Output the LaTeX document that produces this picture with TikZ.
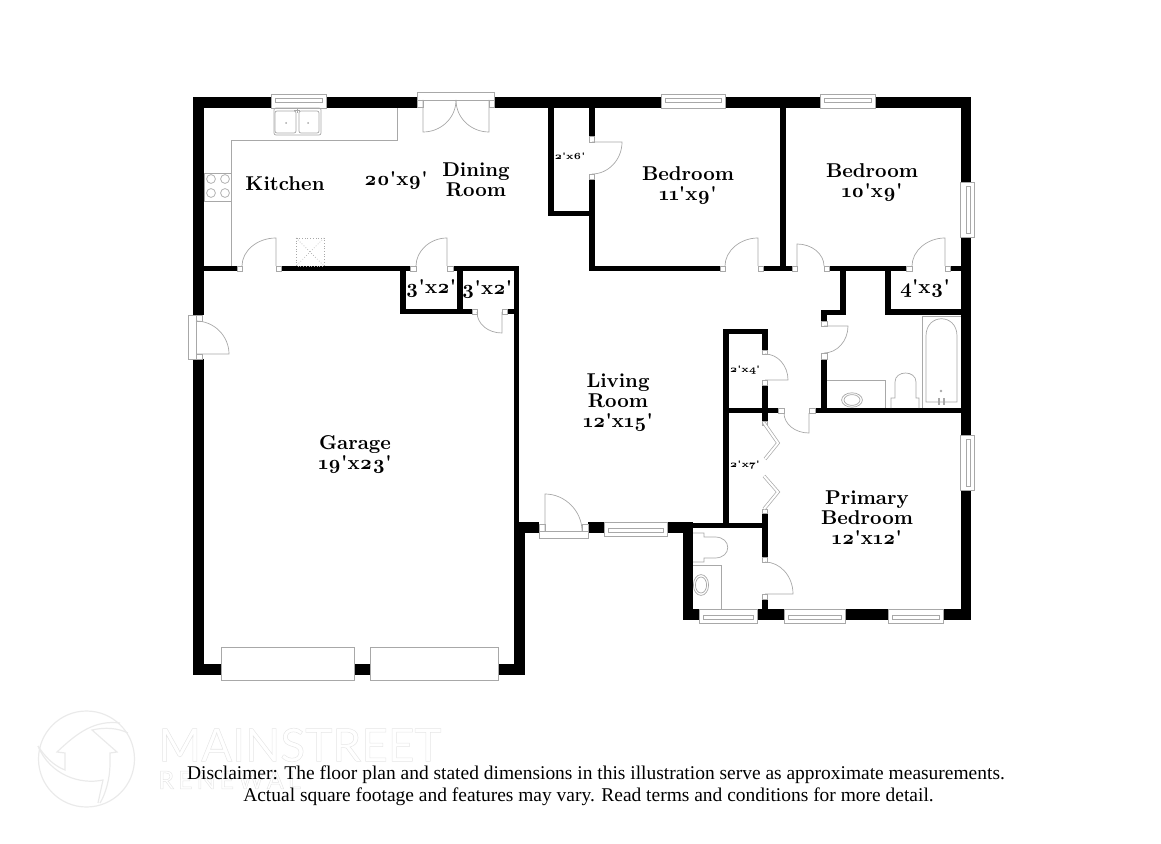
\documentclass[tikz,border=0pt]{standalone}
\usepackage{fontspec}
\setmainfont{Latin Modern Roman}[Numbers=OldStyle,Ligatures=TeXOff]
\newfontfamily\markfont{Lato}
\newfontfamily\notefont{Liberation Serif}
\definecolor{linegray}{HTML}{A8A8A8}
\definecolor{markgray}{HTML}{EAEAEA}
\tikzset{
  wall/.style={line width=5.3pt},
  thinwall/.style={line width=2.8pt},
  fixture/.style={draw=linegray,line width=0.35pt},
  jamb/.style={draw=linegray,fill=white,line width=0.35pt},
  mark line/.style={draw=markgray,line width=0.6pt},
  dotted line/.style={draw=linegray,line width=0.35pt,densely dotted},
  room/.style={font=\bfseries\fontsize{10}{10}\selectfont,align=center,inner sep=0pt},
  smallroom/.style={font=\bfseries\fontsize{4.7}{6}\selectfont,align=center,inner sep=0pt},
  note/.style={font=\notefont\fontsize{9.73}{11}\selectfont,align=center,inner sep=0pt},
}
\begin{document}
\begin{tikzpicture}[x=0.5pt,y=-0.5pt]
    \useasboundingbox (0,0) rectangle (1161,844);
    % watermark
    \draw[mark line] (86.5,759) circle[radius=24pt];
    \draw[mark line] (120,723) .. controls (95,720) and (78,732) .. (57,752)--(65,753)--(65,770) .. controls (52,765) and (44,755) .. (38,746);
    \draw[mark line] (128,733) .. controls (118,728) and (105,727) .. (92,730)--(117,752)--(110,753)--(110,763) .. controls (110,780) and (105,795) .. (100,803);
    \draw[mark line] (38,746) .. controls (50,775) and (80,785) .. (103,780)--(98,803);
    \node[inner sep=0pt,anchor=west] (markname) at (158,745) {\special{pdf:code 1 Tr 0.25 w 0.9 0.9 0.9 RG}\markfont\fontsize{23}{24}\selectfont MAINSTREET\special{pdf:code 0 Tr}};
    \node[inner sep=0pt,anchor=west] (marksub) at (158,780) {\special{pdf:code 1 Tr 0.25 w 0.9 0.9 0.9 RG}\markfont\addfontfeature{LetterSpace=16}\fontsize{12.5}{13}\selectfont RENEWAL\special{pdf:code 0 Tr}};
    % outer walls
    \draw[wall] (271,102.5)--(198.5,102.5)--(198.5,315);
    \draw[wall] (326,102.5)--(417,102.5);
    \draw[wall] (495,102.5)--(661,102.5);
    \draw[wall] (725,102.5)--(820,102.5);
    \draw[wall] (875,102.5)--(966,102.5)--(966,182);
    \draw[wall] (966,237)--(966,435);
    \draw[wall] (966,490)--(966,614.5)--(943,614.5);
    \draw[wall] (888,614.5)--(845,614.5);
    \draw[wall] (784,614.5)--(757,614.5);
    \draw[wall] (699,614.5)--(688,614.5)--(688,527.5);
    \draw[wall] (198.5,359)--(198.5,669.5)--(221,669.5);
    \draw[wall] (354,669.5)--(370,669.5);
    \draw[wall] (498,669.5)--(519.5,669.5)--(519.5,527.5)--(539,527.5);
    \draw[wall] (588,527.5)--(604,527.5);
    \draw[wall] (667,527.5)--(693,527.5);
    % inner walls
    \draw[thinwall] (204,268.5)--(237,268.5);
    \draw[thinwall] (281,268.5)--(410,268.5);
    \draw[thinwall] (453,268.5)--(516.5,268.5)--(516.5,522);
    \draw[thinwall] (403,271)--(403,311.5)--(472,311.5);
    \draw[thinwall] (460,268.5)--(460,311.5);
    \draw[thinwall] (507,311.5)--(516.5,311.5);
    \draw[thinwall] (551,108)--(551,213.5)--(592,213.5);
    \draw[thinwall] (592,108)--(592,136);
    \draw[thinwall] (592,178)--(592,268.5)--(720,268.5);
    \draw[thinwall] (763,268.5)--(792,268.5);
    \draw[thinwall] (783,108)--(783,268.5);
    \draw[thinwall] (829,268.5)--(906,268.5);
    \draw[thinwall] (950,268.5)--(961,268.5);
    \draw[thinwall] (843,268.5)--(843,312.5)--(824,312.5)--(824,321);
    \draw[thinwall] (824,359)--(824,410);
    \draw[thinwall] (888,268.5)--(888,312)--(961,312);
    \draw[thinwall] (815,410.5)--(961,410.5);
    \draw[thinwall] (778,410.5)--(726,410.5);
    \draw[thinwall] (765,350)--(765,331.5)--(726,331.5)--(726,525.5);
    \draw[thinwall] (765,385)--(765,422);
    \draw[thinwall] (765,513)--(765,557);
    \draw[thinwall] (693,525.5)--(765,525.5);
    \draw[thinwall] (765,599)--(765,609);
    % door jambs
    \draw[jamb] (237,266) rectangle (242,271);
    \draw[jamb] (276,266) rectangle (281,271);
    \draw[jamb] (410,266) rectangle (416,271);
    \draw[jamb] (447,266) rectangle (453,271);
    \draw[jamb] (472,309) rectangle (477,314);
    \draw[jamb] (502,309) rectangle (507,314);
    \draw[jamb] (589,136) rectangle (594,142);
    \draw[jamb] (589,174) rectangle (594,179);
    \draw[jamb] (720,266) rectangle (725,271);
    \draw[jamb] (758,266) rectangle (763,271);
    \draw[jamb] (792,266) rectangle (797,271);
    \draw[jamb] (824,266) rectangle (829,271);
    \draw[jamb] (906,266) rectangle (912,271);
    \draw[jamb] (945,266) rectangle (950,271);
    \draw[jamb] (821,321) rectangle (827,326);
    \draw[jamb] (821,353) rectangle (827,359);
    \draw[jamb] (762,350) rectangle (767,354);
    \draw[jamb] (762,380) rectangle (767,385);
    \draw[jamb] (778,408) rectangle (784,413);
    \draw[jamb] (809,408) rectangle (815,413);
    \draw[jamb] (762,421) rectangle (767,425);
    \draw[jamb] (762,509) rectangle (767,513);
    \draw[jamb] (762,557) rectangle (767,562);
    \draw[jamb] (762,594) rectangle (767,599);
    % door leaves
    \draw[fixture] (276,266)--(276,238) .. controls (257,238) and (242,251) .. (242,266);
    \draw[fixture] (447,266)--(447,238) .. controls (430,238) and (416,251) .. (416,266);
    \draw[fixture] (502,312)--(502,333) .. controls (488,333) and (477,324) .. (477,312);
    \draw[fixture] (592,142)--(622,142) .. controls (622,160) and (608,174) .. (592,174);
    \draw[fixture] (758,266)--(758,238) .. controls (740,238) and (725,251) .. (725,266);
    \draw[fixture] (797,266)--(797,244) .. controls (812,244) and (824,254) .. (824,266);
    \draw[fixture] (945,266)--(945,238) .. controls (927,238) and (912,251) .. (912,266);
    \draw[fixture] (824,326)--(848,326) .. controls (848,341) and (837,353) .. (824,353);
    \draw[fixture] (765,380)--(788,380) .. controls (788,366) and (778,354) .. (765,354);
    \draw[fixture] (809,413)--(809,433) .. controls (795,433) and (784,424) .. (784,413);
    \draw[fixture] (765,594)--(793,594) .. controls (793,576) and (780,562) .. (765,562);
    \draw[fixture,double=white,double distance=1pt] (764,423)--(778,443)--(765,459);
    \draw[fixture,double=white,double distance=1pt] (764,476)--(778,492)--(764,509);
    % garage side door
    \draw[jamb] (188,315) rectangle (196,359);
    \draw[jamb] (196,315) rectangle (202,321);
    \draw[jamb] (196,354) rectangle (202,359);
    \draw[fixture] (196,354)--(229,354) .. controls (229,336) and (214,321) .. (196,321);
    % dining room door
    \draw[jamb] (417,92) rectangle (494,100);
    \draw[jamb] (417,100) rectangle (423,107);
    \draw[jamb] (489,100) rectangle (494,107);
    \draw[fixture] (423,100)--(423,132) .. controls (441,132) and (456,118) .. (456,100);
    \draw[fixture] (489,100)--(489,132) .. controls (471,132) and (456,118) .. (456,100);
    % front door
    \draw[jamb] (539,531) rectangle (588,538);
    \draw[jamb] (539,524) rectangle (545,531);
    \draw[jamb] (582,524) rectangle (588,531);
    \draw[fixture] (545,531)--(545,494) .. controls (565,494) and (582,511) .. (582,531);
    % windows
    \draw[jamb] (271,94) rectangle (326,108);
    \draw[fixture] (275,98) rectangle (322,102);
    \draw[jamb] (661,94) rectangle (725,108);
    \draw[fixture] (665,98) rectangle (721,102);
    \draw[jamb] (820,94) rectangle (875,108);
    \draw[fixture] (824,98) rectangle (871,102);
    \draw[jamb] (960,182) rectangle (974,237);
    \draw[fixture] (966,186) rectangle (970,233);
    \draw[jamb] (960,435) rectangle (974,490);
    \draw[fixture] (966,439) rectangle (970,486);
    \draw[jamb] (699,609) rectangle (757,623);
    \draw[fixture] (703,615) rectangle (753,619);
    \draw[jamb] (784,609) rectangle (845,623);
    \draw[fixture] (788,615) rectangle (841,619);
    \draw[jamb] (888,609) rectangle (943,623);
    \draw[fixture] (892,615) rectangle (939,619);
    \draw[jamb] (604,522) rectangle (667,536);
    \draw[fixture] (608,528) rectangle (663,532);
    % garage doors
    \draw[jamb] (221,647) rectangle (354,680);
    \draw[jamb] (370,647) rectangle (498,680);
    % kitchen fittings
    \draw[fixture] (397,108)--(397,140)--(231,140)--(231,266);
    \draw[fixture,rounded corners=1pt] (274,108) rectangle (321,135);
    \draw[fixture,rounded corners=1pt] (275,111) rectangle (296,133);
    \draw[fixture,rounded corners=1pt] (299,111) rectangle (319,133);
    \fill[linegray] (286,123) circle[radius=0.5pt] (308,123) circle[radius=0.5pt];
    \draw[fixture] (297,109)--(297,113) (294,110)--(300,110);
    \draw[fixture] (204,173) rectangle (231,201);
    \draw[fixture] (211,179) circle[radius=2.2pt];
    \draw[fixture] (225,179) circle[radius=2.2pt];
    \draw[fixture] (211,193) circle[radius=2.2pt];
    \draw[fixture] (225,193) circle[radius=2.2pt];
    \draw[dotted line] (296,238) rectangle (324,266);
    \draw[dotted line] (296,238)--(324,266) (324,238)--(296,266);
    % bath fittings
    \draw[fixture] (922,408)--(922,316)--(961,316);
    \draw[fixture] (926,402)--(926,336) .. controls (926,313) and (957,313) .. (957,336)--(957,402)--cycle;
    \draw[fixture] (938,398) rectangle (939.5,404);
    \draw[fixture] (943,398) rectangle (944.5,404);
    \fill[linegray] (941,391) circle[radius=0.7pt];
    \draw[fixture] (827,380)--(885,380)--(885,408);
    \draw[fixture] (852,400) ellipse[x radius=5.2pt,y radius=3.6pt];
    \draw[fixture] (852,400) ellipse[x radius=4pt,y radius=2.7pt];
    \draw[fixture] (891,408)--(891,398)--(895,398)--(895,382) .. controls (895,370) and (916,370) .. (916,382)--(916,398)--(919,398)--(919,408);
    \draw[fixture] (693,565)--(721,565)--(721,609);
    \draw[fixture] (701,585) ellipse[x radius=3.8pt,y radius=5.2pt];
    \draw[fixture] (701,585) ellipse[x radius=2.8pt,y radius=4pt];
    \draw[fixture] (693,533)--(704,533)--(704,537)--(715,537) .. controls (732,537) and (732,558) .. (715,558)--(704,558)--(704,562)--(693,562);
    % labels
    \node[room] (kitchen) at (285,184) {Kitchen};
    \node[room] (diningsize) at (396,181) {20'x9'};
    \node[room] (dining) at (476,180) {Dining\\Room};
    \node[room] (closeta) at (431,289) {3'x2'};
    \node[room] (closetb) at (487,290) {3'x2'};
    \node[smallroom] (closetc) at (570,156) {2'x6'};
    \node[room] (bedrooma) at (688,186) {Bedroom\\11'x9'};
    \node[room] (bedroomb) at (872,183) {Bedroom\\10'x9'};
    \node[room] (closetd) at (925,289) {4'x3'};
    \node[smallroom] (closete) at (745,370) {2'x4'};
    \node[smallroom] (closetf) at (745,465) {2'x7'};
    \node[room] (living) at (618,403) {Living\\Room\\12'x15'};
    \node[room] (garage) at (355,455) {Garage\\19'x23'};
    \node[room] (primary) at (867,518) {Primary\\Bedroom\\12'x12'};
    \node[note] (disclaimer) at (596,786) {Disclaimer: The floor plan and stated dimensions in this illustration serve as approximate measurements.\\Actual square footage and features may vary. Read terms and conditions for more detail.\rule{7.5pt}{0pt}};
\end{tikzpicture}
\end{document}
